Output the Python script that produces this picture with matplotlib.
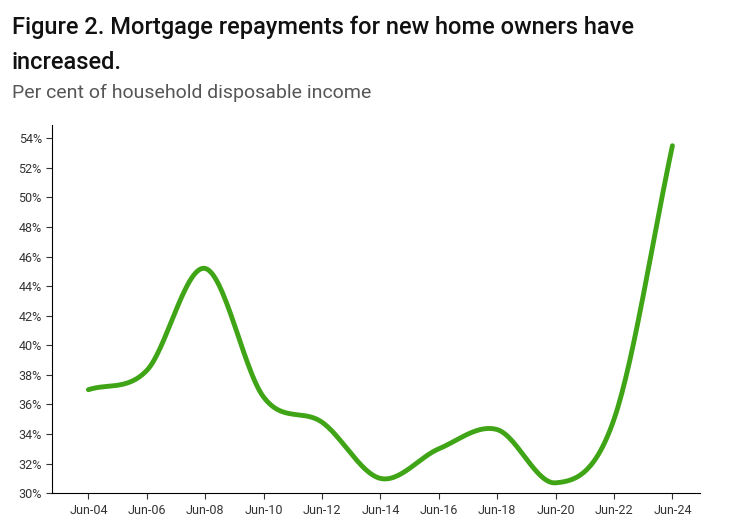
import numpy as np
import matplotlib
matplotlib.use("Agg")
import matplotlib.pyplot as plt
from matplotlib.ticker import FuncFormatter

plt.rcParams["font.family"] = "Roboto"

labels = ["Jun-04", "Jun-06", "Jun-08", "Jun-10", "Jun-12", "Jun-14",
          "Jun-16", "Jun-18", "Jun-20", "Jun-22", "Jun-24"]
values = [37.0, 38.3, 45.2, 36.5, 34.8, 31.0, 33.0, 34.3, 30.7, 35.0, 53.5]


def smooth(y, n=30):
    # Catmull-Rom spline through the points, just for a curved line
    y = np.asarray(y, float)
    p = np.concatenate([[2 * y[0] - y[1]], y, [2 * y[-1] - y[-2]]])
    xs, ys = [], []
    t = np.linspace(0, 1, n, endpoint=False)
    for i in range(len(y) - 1):
        p0, p1, p2, p3 = p[i], p[i + 1], p[i + 2], p[i + 3]
        seg = 0.5 * (2 * p1 + (-p0 + p2) * t + (2 * p0 - 5 * p1 + 4 * p2 - p3) * t ** 2
                     + (-p0 + 3 * p1 - 3 * p2 + p3) * t ** 3)
        xs.append(i + t)
        ys.append(seg)
    xs.append([len(y) - 1])
    ys.append([y[-1]])
    return np.concatenate(xs), np.concatenate(ys)


fig = plt.figure(figsize=(7.35, 5.23), dpi=100)
ax = fig.add_axes([0.071, 0.057, 0.882, 0.704])

sx, sy = smooth(values)
ax.plot(sx, sy, color="#3fa516", lw=3.5, solid_capstyle="round")

ax.set_xlim(-0.62, 10.48)
ax.set_ylim(30, 54.9)
ax.set_xticks(range(len(labels)))
ax.set_xticklabels(labels)
ax.set_yticks(range(30, 55, 2))
ax.yaxis.set_major_formatter(FuncFormatter(lambda v, _: f"{v:.0f}%"))
ax.tick_params(labelsize=9, length=4, color="#333333", labelcolor="#333333")
for s in ("top", "right"):
    ax.spines[s].set_visible(False)

fig.text(0.016, 0.948, "Figure 2. Mortgage repayments for new home owners have",
         fontsize=17, fontweight="medium", color="#111111", va="center")
fig.text(0.016, 0.88, "increased.", fontsize=17, fontweight="medium",
         color="#111111", va="center")
fig.text(0.016, 0.823, "Per cent of household disposable income",
         fontsize=14, color="#555555", va="center")

fig.savefig("out.png", dpi=100)
